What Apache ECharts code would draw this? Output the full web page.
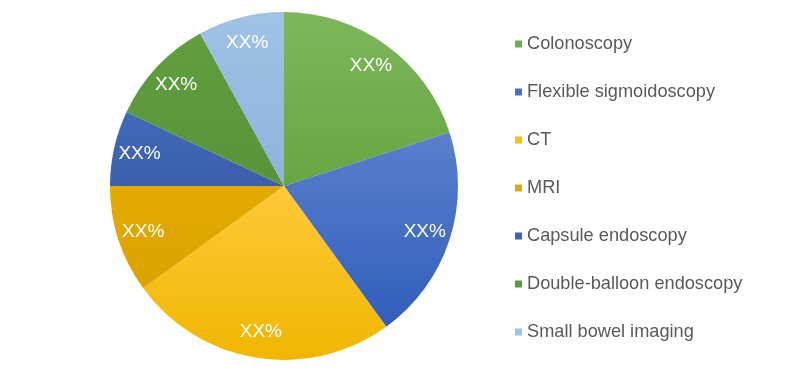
<!DOCTYPE html>
<html>
<head>
<meta charset="utf-8">
<script src="https://cdn.jsdelivr.net/npm/echarts@6/dist/echarts.min.js"></script>
<style>
html,body{margin:0;padding:0;background:#fff;}
#c{width:800px;height:382px;}
</style>
</head>
<body>
<div id="c"></div>
<script>
var categories = ['Colonoscopy', 'Flexible sigmoidoscopy', 'CT', 'MRI', 'Capsule endoscopy', 'Double-balloon endoscopy', 'Small bowel imaging'];
var values = [20, 20, 25, 10, 7, 10, 8];
var labels = ['XX%', 'XX%', 'XX%', 'XX%', 'XX%', 'XX%', 'XX%'];
var topColors = ['#7DB75C', '#5A80CC', '#FFC93A', '#E4AA00', '#4269B8', '#609E3E', '#A0C2E7'];
var bottomColors = ['#68A640', '#2F5EBA', '#F0B600', '#DBA300', '#3A60AD', '#58933A', '#8EB2DC'];
var legendColors = ['#70AD47', '#4472C4', '#FFC000', '#E0A800', '#3A62B0', '#5B9B3C', '#9DC3E6'];

var chart = echarts.init(document.getElementById('c'), null, {renderer: 'canvas'});
var pieData = categories.map(function (n, i) {
  return {
    name: n,
    value: values[i],
    itemStyle: {
      color: new echarts.graphic.LinearGradient(0, 0, 0, 1, [
        {offset: 0, color: topColors[i]},
        {offset: 1, color: bottomColors[i]}
      ])
    }
  };
});
var labelData = categories.map(function (n, i) {
  return {name: n, value: values[i], label: {formatter: labels[i]}};
});
chart.setOption({
  animation: false,
  color: legendColors,
  legend: {
    orient: 'vertical',
    left: 515,
    top: 35,
    padding: 0,
    icon: 'rect',
    itemWidth: 7,
    itemHeight: 7,
    itemGap: 30,
    data: categories.map(function (n, i) {
      return {name: n, itemStyle: {color: legendColors[i]}};
    }),
    textStyle: {
      color: '#595959',
      fontSize: 18.2,
      lineHeight: 18,
      fontFamily: 'Liberation Sans, Arial, sans-serif'
    }
  },
  series: [
    {
      type: 'pie',
      center: [284, 186],
      radius: [0, 174],
      startAngle: 90,
      clockwise: true,
      silent: true,
      label: {show: false},
      labelLine: {show: false},
      itemStyle: {borderWidth: 0},
      data: pieData
    },
    {
      type: 'pie',
      center: [284, 186],
      radius: [116, 174],
      startAngle: 90,
      clockwise: true,
      silent: true,
      itemStyle: {color: 'rgba(0,0,0,0)', borderWidth: 0},
      label: {
        show: true,
        position: 'inside',
        color: '#FFFFFF',
        fontSize: 19,
        fontFamily: 'Liberation Sans, Arial, sans-serif'
      },
      labelLine: {show: false},
      data: labelData
    }
  ]
});
</script>
</body>
</html>
